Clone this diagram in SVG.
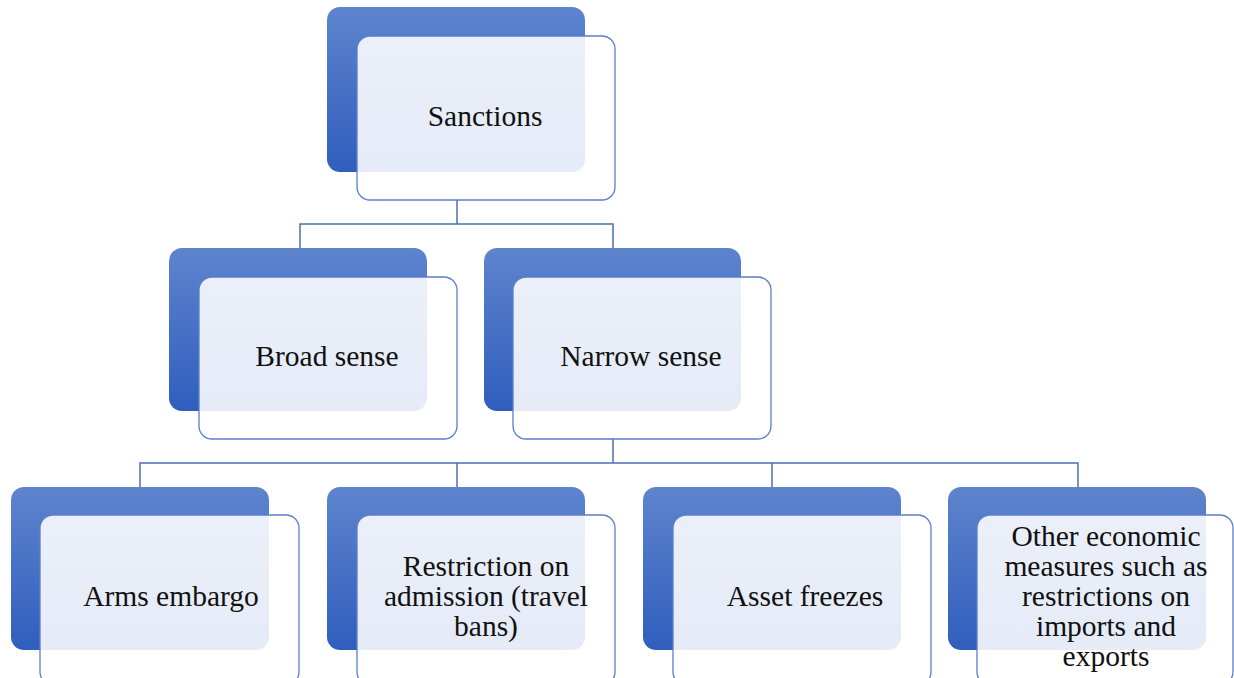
<svg xmlns="http://www.w3.org/2000/svg" width="1234" height="678" viewBox="0 0 1234 678">
<defs>
<linearGradient id="g" x1="0" y1="0" x2="0" y2="1">
<stop offset="0" stop-color="#5e84cd"/>
<stop offset="1" stop-color="#2f5ebd"/>
</linearGradient>
<style>
.back{fill:url(#g);}
.front{fill:#ffffff;fill-opacity:0.88;stroke:#5b7fc8;stroke-width:1.3;}
.t{font-family:"Liberation Serif","Times New Roman",serif;font-size:29.5px;fill:#111;text-anchor:middle;}
.c{fill:none;stroke:#4a6fb8;stroke-width:1.5;}
</style>
</defs>
<rect width="1234" height="678" fill="#ffffff"/>
<g id="connectors">
<path class="c" d="M457 200V224M300 248V224H613V248"/>
<path class="c" d="M613 439V463M140 487V463H1078V487M457 463V487M772 463V487"/>
</g>
<g id="sanctions">
<rect class="back" x="327" y="7" width="258" height="165" rx="13"/>
<rect class="front" x="357" y="36" width="258" height="164" rx="13"/>
<text class="t" x="485" y="126">Sanctions</text>
</g>
<g id="broad">
<rect class="back" x="169" y="248" width="258" height="163" rx="13"/>
<rect class="front" x="199" y="277" width="258" height="162" rx="13"/>
<text class="t" x="327" y="366">Broad sense</text>
</g>
<g id="narrow">
<rect class="back" x="484" y="248" width="257" height="163" rx="13"/>
<rect class="front" x="513" y="277" width="258" height="162" rx="13"/>
<text class="t" x="641" y="366">Narrow sense</text>
</g>
<g id="arms">
<rect class="back" x="11" y="487" width="258" height="163" rx="13"/>
<rect class="front" x="40" y="515" width="259" height="170" rx="13"/>
<text class="t" x="171" y="606">Arms embargo</text>
</g>
<g id="restriction">
<rect class="back" x="327" y="487" width="258" height="163" rx="13"/>
<rect class="front" x="357" y="515" width="258" height="170" rx="13"/>
<text class="t" x="486" y="576">Restriction on</text>
<text class="t" x="486" y="606">admission (travel</text>
<text class="t" x="486" y="636">bans)</text>
</g>
<g id="asset">
<rect class="back" x="643" y="487" width="258" height="163" rx="13"/>
<rect class="front" x="673" y="515" width="258" height="170" rx="13"/>
<text class="t" x="805" y="606">Asset freezes</text>
</g>
<g id="other">
<rect class="back" x="948" y="487" width="258" height="163" rx="13"/>
<rect class="front" x="977" y="515" width="256" height="170" rx="13"/>
<text class="t" x="1106" y="546">Other economic</text>
<text class="t" x="1106" y="576">measures such as</text>
<text class="t" x="1106" y="606">restrictions on</text>
<text class="t" x="1106" y="636">imports and</text>
<text class="t" x="1106" y="666">exports</text>
</g>
</svg>
